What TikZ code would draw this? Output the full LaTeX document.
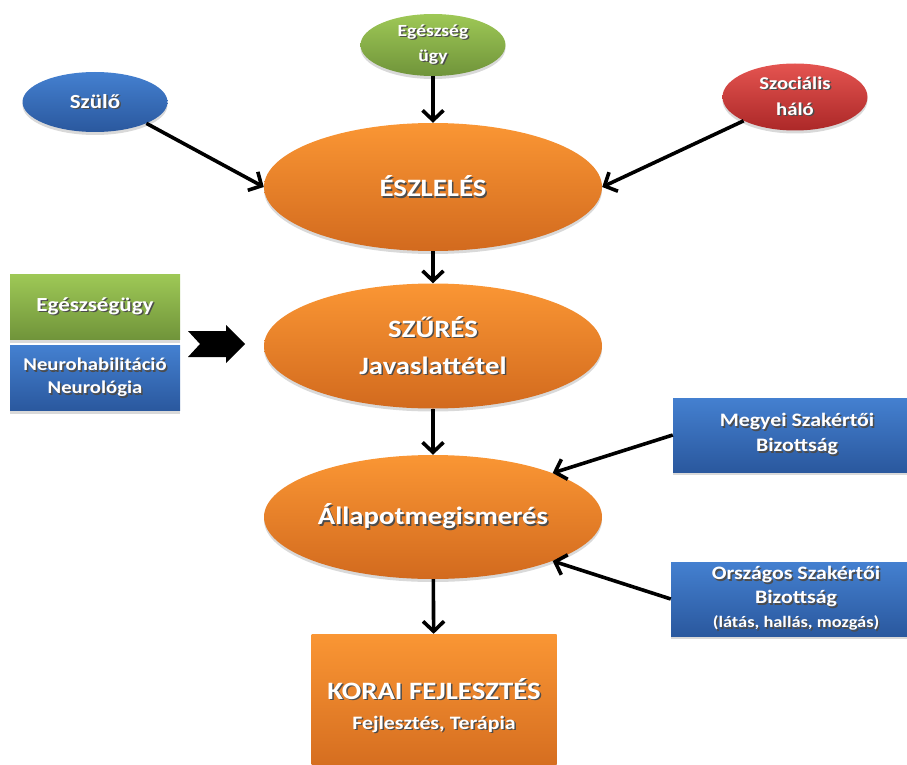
\documentclass[tikz,border=0pt]{standalone}
\usepackage{fontspec}
\setmainfont[FakeStretch=1.15]{Carlito}
\usetikzlibrary{shapes.geometric,shadows,arrows.meta}

\definecolor{orangetop}{RGB}{250,150,52}
\definecolor{orangebot}{RGB}{210,106,30}
\definecolor{greentop}{RGB}{158,200,86}
\definecolor{greenbot}{RGB}{112,148,58}
\definecolor{bluetop}{RGB}{68,128,208}
\definecolor{bluebot}{RGB}{42,88,158}
\definecolor{redtop}{RGB}{228,84,80}
\definecolor{redbot}{RGB}{172,40,40}

% white text with a dark shadow
\newcommand\sh[1]{\leavevmode\rlap{\kern1.5pt\raisebox{-1.5pt}{\color{black!70}#1}}#1}

\tikzset{
  shade/.style={drop shadow={opacity=0.3,shadow xshift=0pt,shadow yshift=-3pt}},
  bub/.style={ellipse,inner sep=0pt,text=white,align=center,shade,font=\bfseries\fontsize{20}{26}\selectfont},
  box/.style={rectangle,inner sep=0pt,text=white,align=center,shade,font=\bfseries\fontsize{20}{25}\selectfont},
  orangefill/.style={top color=orangetop,bottom color=orangebot},
  greenfill/.style={top color=greentop,bottom color=greenbot},
  bluefill/.style={top color=bluetop,bottom color=bluebot},
  redfill/.style={top color=redtop,bottom color=redbot},
  big/.style={font=\bfseries\fontsize{25}{37}\selectfont},
  arr/.style={-{Straight Barb[length=10pt,width=21pt]},line width=3.6pt,black},
}

\begin{document}
\begin{tikzpicture}[x=1pt,y=1pt]
\useasboundingbox (0,0) rectangle (907,-765);

% top row
\node[bub,bluefill,minimum width=145,minimum height=60] (szulo) at (95,-102) {\sh{Szülő}};
\node[bub,greenfill,minimum width=145,minimum height=62,font=\bfseries\fontsize{17}{25}\selectfont] (egeszseg) at (433,-45) {\sh{Egészség}\\\sh{ügy}};
\node[bub,redfill,minimum width=145,minimum height=67,font=\bfseries\fontsize{18}{26}\selectfont] (szocialis) at (795,-97) {\sh{Szociális}\\\sh{háló}};

% main chain
\node[bub,orangefill,big,minimum width=338,minimum height=128] (eszleles) at (433,-187) {\sh{ÉSZLELÉS}};
\node[bub,orangefill,big,minimum width=338,minimum height=125] (szures) at (433,-346) {\sh{SZŰRÉS}\\\sh{Javaslattétel}};
\node[bub,orangefill,big,minimum width=338,minimum height=124] (allapot) at (433,-517) {\sh{Állapotmegismerés}};
\node[box,orangefill,big,minimum width=245,minimum height=144,font=\bfseries\fontsize{25}{30}\selectfont] (korai) at (434,-706) {\sh{KORAI FEJLESZTÉS}\\{\fontsize{19}{24}\selectfont\sh{Fejlesztés, Terápia}}};

% left boxes
\node[box,greenfill,minimum width=170,minimum height=65] (egeszsegugy) at (95,-307) {\sh{Egészségügy}};
\node[box,bluefill,minimum width=170,minimum height=65,font=\bfseries\fontsize{18}{23}\selectfont] (neuro) at (95,-378) {\sh{Neurohabilitáció}\\\sh{Neurológia}};

% right boxes
\node[box,bluefill,minimum width=248,minimum height=74,font=\bfseries\fontsize{19}{25}\selectfont] (megyei) at (797,-435) {\sh{Megyei Szakértői}\\\sh{Bizottság}};
\node[box,bluefill,minimum width=250,minimum height=74,font=\bfseries\fontsize{19}{24}\selectfont] (orszagos) at (796,-599) {\sh{Országos Szakértői}\\\sh{Bizottság}\\{\fontsize{16}{20}\selectfont\sh{(látás, hallás, mozgás)}}};

% block arrow
\coordinate (blk) at (216,-344);
\fill[black] ([xshift=-28,yshift=13]blk) -- ([xshift=10,yshift=13]blk) -- ([xshift=10,yshift=19]blk)
  -- ([xshift=29,yshift=0]blk) -- ([xshift=10,yshift=-19]blk) -- ([xshift=10,yshift=-13]blk)
  -- ([xshift=-28,yshift=-13]blk) -- ([xshift=-16,yshift=0]blk) -- cycle;

% connectors
\draw[arr] (szulo.south east) -- (eszleles.west);
\draw[arr] (egeszseg) -- (eszleles);
\draw[arr] (szocialis.south west) -- (eszleles.east);
\draw[arr] (eszleles) -- (szures);
\draw[arr] (szures) -- (allapot);
\draw[arr] (megyei.west) -- (allapot.north east);
\draw[arr] (orszagos.west) -- (allapot.south east);
\draw[arr] (allapot) -- (korai);
\end{tikzpicture}
\end{document}
